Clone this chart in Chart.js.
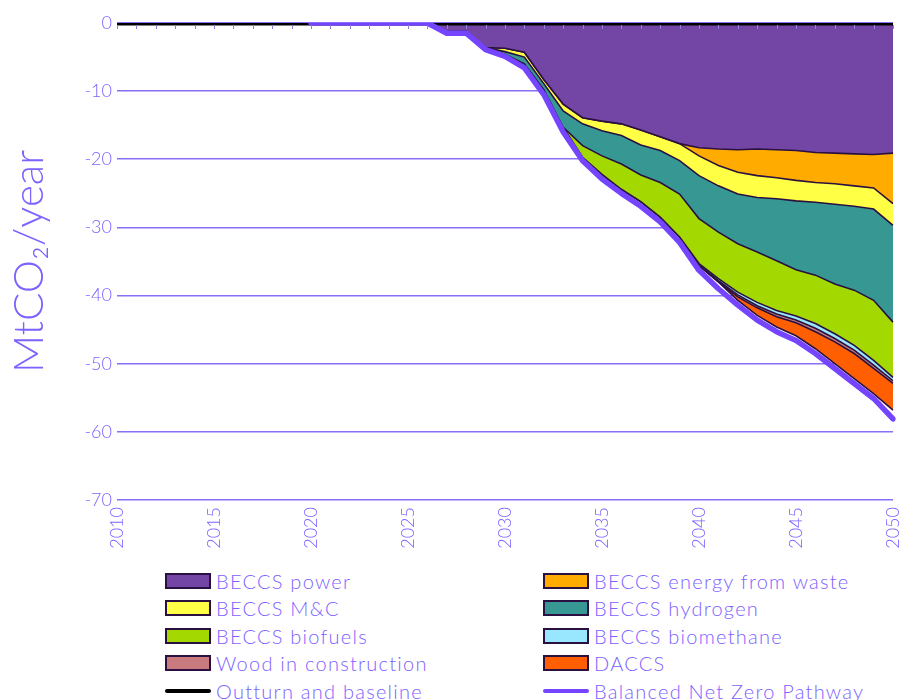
<!DOCTYPE html>
<html>
<head>
<meta charset="utf-8">
<script src="https://cdn.jsdelivr.net/npm/chart.js@4.4.1/dist/chart.umd.min.js"></script>
<style>
  html, body { margin: 0; padding: 0; background: #ffffff; }
  #wrap { position: relative; width: 906px; height: 700px; overflow: hidden; }
  #chart { position: absolute; left: 0; top: 0; }
  #legend { position: absolute; left: 165px; top: 567px; display: grid;
    grid-template-columns: 378px 340px; grid-auto-rows: 27.5px;
    font-family: Lato, "DejaVu Sans", sans-serif; font-weight: 300; font-size: 20px; color: #7d62ff; }
  .item { display: flex; align-items: center; white-space: nowrap; letter-spacing: 1.25px; }
  .box { width: 42px; height: 12px; border: 2px solid #2a1040; margin-right: 5px; box-sizing: content-box; }
  .ln { width: 46px; margin-right: 5px; border-radius: 3px; }
</style>
</head>
<body>
<div id="wrap">
  <canvas id="chart" width="906" height="556"></canvas>
  <div id="legend"></div>
</div>
<script>
const years = ['2010','2011','2012','2013','2014','2015','2016','2017','2018','2019',
  '2020','2021','2022','2023','2024','2025','2026','2027','2028','2029',
  '2030','2031','2032','2033','2034','2035','2036','2037','2038','2039',
  '2040','2041','2042','2043','2044','2045','2046','2047','2048','2049','2050'];

// MtCO2/year removals (negative), 2010..2050
const beccsPower = [0,0,0,0,0,0,0,0,0,0, 0,0,0,0,0,0,0,-1.2,-1.2,-3.6,
  -3.7,-4.3,-8.3,-11.9,-13.9,-14.4,-14.8,-15.7,-16.7,-17.7,
  -18.3,-18.5,-18.6,-18.5,-18.6,-18.7,-19.0,-19.1,-19.2,-19.3,-19.1];
const beccsWaste = [0,0,0,0,0,0,0,0,0,0, 0,0,0,0,0,0,0,0,0,0,
  0,0,0,0,0,0,0,0,0,0,
  -1.2,-2.4,-3.3,-3.9,-4.1,-4.4,-4.4,-4.5,-4.7,-4.9,-7.4];
const beccsMC = [0,0,0,0,0,0,0,0,0,0, 0,0,0,0,0,0,0,0,0,0,
  -0.5,-0.7,-0.6,-1.0,-0.9,-1.4,-1.7,-2.2,-2.0,-2.5,
  -2.9,-3.0,-3.2,-3.2,-3.1,-3.0,-2.9,-3.0,-3.0,-3.1,-3.2];
const beccsHydrogen = [0,0,0,0,0,0,0,0,0,0, 0,0,0,0,0,0,0,0,0,0,
  -0.4,-1.0,-0.9,-2.4,-3.2,-3.7,-4.2,-4.4,-4.7,-4.9,
  -6.3,-6.8,-7.3,-8.0,-9.1,-10.1,-10.7,-11.7,-12.3,-13.4,-14.2];
const beccsBiofuels = [0,0,0,0,0,0,0,0,0,0, 0,0,0,0,0,0,0,0,0,0,
  0,0,0,0,-1.7,-2.7,-3.7,-3.9,-5.1,-6.3,
  -6.6,-6.8,-7.1,-7.4,-7.3,-6.8,-7.1,-7.3,-8.1,-8.8,-8.1];
const beccsBiomethane = [0,0,0,0,0,0,0,0,0,0, 0,0,0,0,0,0,0,0,0,0,
  0,0,0,0,0,0,0,0,0,0,
  -0.2,-0.3,-0.4,-0.5,-0.5,-0.6,-0.7,-0.7,-0.7,-0.7,-0.5];
const woodConstruction = [0,0,0,0,0,0,0,0,0,0, 0,0,0,0,0,0,0,0,0,0,
  0,0,0,0,0,0,0,0,0,0,
  -0.1,-0.2,-0.3,-0.3,-0.4,-0.4,-0.5,-0.5,-0.5,-0.5,-0.4];
const daccs = [0,0,0,0,0,0,0,0,0,0, 0,0,0,0,0,0,0,0,0,0,
  0,0,0,0,0,0,0,0,0,0,
  0,0,-0.5,-1.1,-1.5,-1.9,-2.5,-3.2,-3.7,-3.7,-3.9];
const outturnBaseline = [0,0,0,0,0,0,0,0,0,0, 0,0,0,0,0,0,0,0,0,0,
  0,0,0,0,0,0,0,0,0,0, 0,0,0,0,0,0,0,0,0,0,0];
const balancedPathway = [null,null,null,null,null,null,null,null,null,null,
  0,0,0,0,0,0,0,-1.5,-1.5,-3.9,
  -4.9,-6.6,-10.5,-16.0,-20.2,-22.9,-25.0,-26.9,-29.2,-32.2,
  -36.3,-39.0,-41.4,-43.6,-45.3,-46.6,-48.5,-50.7,-52.9,-55.1,-58.1];
const yTicks = [0,-10,-20,-30,-40,-50,-60,-70];
const xLabelYears = ['2010','2015','2020','2025','2030','2035','2040','2045','2050'];

const TXT = '#7d62ff';
const GRID = '#8a6ef7';
const EDGE = '#2a1040';
const FONT = 'Lato, "DejaVu Sans", sans-serif';

function area(label, data, color, fill) {
  return { label, data, backgroundColor: color, borderColor: EDGE, borderWidth: 1.6,
    fill, stack: 'removals', pointRadius: 0, tension: 0, kind: 'area' };
}

const datasets = [
  { label: 'Balanced Net Zero Pathway', data: balancedPathway, borderColor: '#7444ff', backgroundColor: '#7444ff',
    borderWidth: 5.5, fill: false, stack: 'bnz', pointRadius: 0, tension: 0, borderCapStyle: 'round', borderJoinStyle: 'round', kind: 'line' },
  { label: 'Outturn and baseline', data: outturnBaseline, borderColor: '#000000', backgroundColor: '#000000',
    borderWidth: 5, fill: false, stack: 'out', pointRadius: 0, tension: 0, kind: 'line' },
  area('BECCS power', beccsPower, '#7346a6', 'origin'),
  area('BECCS energy from waste', beccsWaste, '#ffab00', '-1'),
  area('BECCS M&C', beccsMC, '#ffff45', '-1'),
  area('BECCS hydrogen', beccsHydrogen, '#379893', '-1'),
  area('BECCS biofuels', beccsBiofuels, '#a3d900', '-1'),
  area('BECCS biomethane', beccsBiomethane, '#99e6ff', '-1'),
  area('Wood in construction', woodConstruction, '#c97a7e', '-1'),
  area('DACCS', daccs, '#ff5f00', '-1')
];

const zeroTicks = {
  id: 'zeroTicks',
  afterDatasetsDraw(chart) {
    const x = chart.scales.x, y = chart.scales.y;
    const y0 = y.getPixelForValue(0);
    const ctx = chart.ctx;
    ctx.save();
    ctx.strokeStyle = '#8d80d8';
    ctx.lineWidth = 1;
    for (let i = 0; i < years.length; i++) {
      const px = Math.round(x.getPixelForValue(i)) + 0.5;
      ctx.beginPath(); ctx.moveTo(px, y0 + 2); ctx.lineTo(px, y0 + 6); ctx.stroke();
    }
    ctx.restore();
  }
};

const chart = new Chart(document.getElementById('chart'), {
  type: 'line',
  data: { labels: years, datasets },
  plugins: [zeroTicks],
  options: {
    responsive: false,
    animation: false,
    devicePixelRatio: 1,
    layout: { padding: { top: 23, right: 13, left: 0, bottom: 0 } },
    plugins: { legend: { display: false }, tooltip: { enabled: false } },
    scales: {
      x: {
        type: 'category',
        offset: false,
        grid: { display: false, drawTicks: false },
        border: { display: false },
        ticks: {
          autoSkip: false, maxRotation: 90, minRotation: 90, padding: 7,
          color: TXT, font: { family: FONT, size: 18, weight: '300' },
          callback(v) { const l = years[v]; return xLabelYears.includes(l) ? l : ''; }
        },
        afterFit(s) { s.height = 56; s.paddingLeft = 0; s.paddingRight = 0; }
      },
      y: {
        stacked: true,
        min: -70, max: 0,
        afterBuildTicks(s) { s.ticks = yTicks.map(v => ({ value: v })); },
        grid: { color: GRID, lineWidth: 1.6, drawTicks: false },
        border: { display: false },
        ticks: { color: TXT, padding: 5, font: { family: FONT, size: 18, weight: '300' } },
        title: { display: true, text: 'MtCO₂/year', color: TXT, padding: { top: 4, bottom: 0 },
          font: { family: FONT, size: 42, weight: '300' } },
        afterFit(s) { s.width = 117; s.paddingTop = 0; s.paddingBottom = 0; }
      }
    }
  }
});

// HTML legend built from the chart's datasets
const order = ['BECCS power','BECCS energy from waste','BECCS M&C','BECCS hydrogen','BECCS biofuels',
  'BECCS biomethane','Wood in construction','DACCS','Outturn and baseline','Balanced Net Zero Pathway'];
const leg = document.getElementById('legend');
order.forEach(name => {
  const ds = chart.data.datasets.find(d => d.label === name);
  const it = document.createElement('div'); it.className = 'item';
  const sw = document.createElement('span');
  if (ds.kind === 'area') { sw.className = 'box'; sw.style.background = ds.backgroundColor; }
  else { sw.className = 'ln'; sw.style.background = ds.borderColor; sw.style.height = (ds.borderWidth - 1) + 'px'; }
  const tx = document.createElement('span'); tx.textContent = name;
  it.appendChild(sw); it.appendChild(tx); leg.appendChild(it);
});
</script>
</body>
</html>
